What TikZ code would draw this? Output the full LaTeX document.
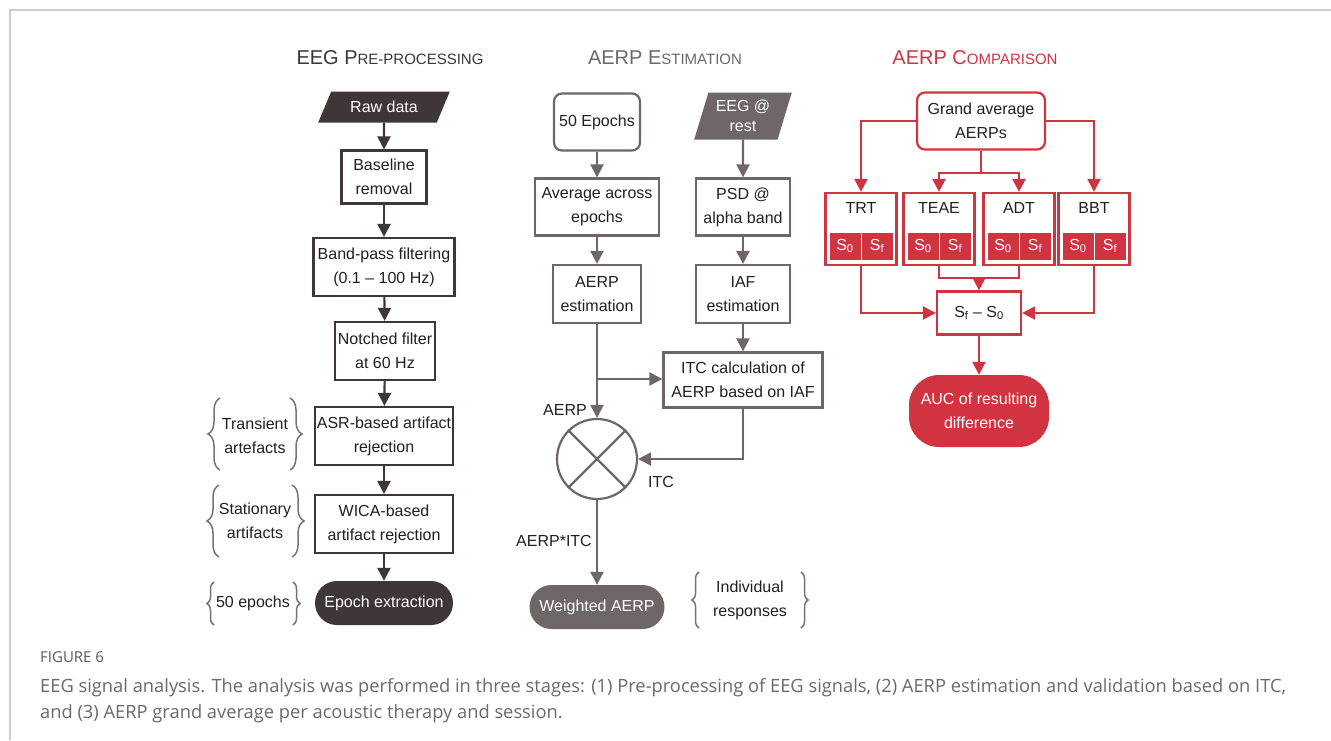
\documentclass[tikz,border=0pt]{standalone}
\usepackage{fontspec}
\setmainfont{Liberation Sans}
\newfontfamily\capfont{Open Sans}
\usetikzlibrary{arrows.meta, positioning, shapes.geometric, decorations.pathreplacing}

\definecolor{predark}{RGB}{62,54,55}
\definecolor{estgray}{RGB}{110,102,103}
\definecolor{cmpred}{RGB}{208,52,64}
\definecolor{txtdark}{RGB}{35,31,32}
\definecolor{framegray}{RGB}{204,204,204}
\definecolor{capgray}{RGB}{105,105,105}
\definecolor{bracegray}{RGB}{120,114,115}

\newcommand{\boxfont}{\fontsize{16}{24}\selectfont}
\newcommand{\headfont}{\fontsize{20}{24}\selectfont}
\newcommand{\fsc}[1]{{\fontsize{15}{18}\selectfont #1}}

\tikzset{
  box/.style={draw, line width=2.2pt, fill=white, align=center, text=txtdark, font=\boxfont, inner sep=1pt},
  dataio/.style={trapezium, trapezium stretches=true, align=center, text=white, font=\boxfont, inner sep=1pt},
  stadium/.style={align=center, text=white, font=\boxfont, inner sep=1pt},
  head/.style={anchor=base, font=\headfont},
  tag/.style={align=center, text=txtdark, font=\boxfont, inner sep=0pt},
  gbrace/.style={decorate, decoration={brace, amplitude=#1}, draw=bracegray, line width=1.5pt},
  gbrace/.default=10pt,
  sq/.style={fill=cmpred, text=white, font=\boxfont, minimum width=31pt, minimum height=27pt, inner sep=0pt}
}

\begin{document}
\begin{tikzpicture}[x=1pt, y=-1pt, arr/.style={-{Triangle[length=13pt,width=13pt]}, line width=2.2pt}]
  \useasboundingbox (0,0) rectangle (1331,740);
  \draw[framegray, line width=2pt] (10,740) -- (10,10) -- (1331,10);

  % headers
  \node[head, text=predark] (h1) at (390,64) {EEG P\fsc{RE-PROCESSING}};
  \node[head, text=estgray] (h2) at (665,64) {AERP E\fsc{STIMATION}};
  \node[head, text=cmpred] (h3) at (975,64) {AERP C\fsc{OMPARISON}};

  % pre-processing
  \node[dataio, fill=predark, trapezium left angle=58, trapezium right angle=122, minimum width=132pt, minimum height=31pt] (raw) at (384,107) {Raw data};
  \node[box, draw=predark, minimum width=85pt, minimum height=53pt] (base) at (384,177) {Baseline\\removal};
  \node[box, draw=predark, minimum width=141pt, minimum height=58pt] (band) at (384,267) {Band-pass filtering\\(0.1 -- 100 Hz)};
  \node[box, draw=predark, minimum width=100pt, minimum height=58pt] (notch) at (385,351) {Notched filter\\at 60 Hz};
  \node[box, draw=predark, minimum width=138pt, minimum height=58pt] (asr) at (384,436) {ASR-based artifact\\rejection};
  \node[box, draw=predark, minimum width=138pt, minimum height=58pt] (wica) at (384,524) {WICA-based\\artifact rejection};
  \node[stadium, fill=predark, rounded corners=22pt, minimum width=138pt, minimum height=44pt] (epoch) at (384,603) {Epoch extraction};

  \path[every edge/.append style={arr, draw=predark}]
    (raw) edge (base)
    (base) edge (band)
    (band) edge (notch)
    (notch) edge (asr)
    (asr) edge (wica)
    (wica) edge (epoch);

  \node[tag] (trans) at (255,436) {Transient\\artefacts};
  \node[tag] (stat) at (255,521) {Stationary\\artifacts};
  \node[tag] (n50) at (253,603) {50 epochs};
  \draw[gbrace=12pt] (220,470) -- (220,398);
  \draw[gbrace=12pt] (290,398) -- (290,470);
  \draw[gbrace=12pt] (219,557) -- (219,485);
  \draw[gbrace=12pt] (292,485) -- (292,557);
  \draw[gbrace=7pt] (214,625) -- (214,582);
  \draw[gbrace=7pt] (293,582) -- (293,625);

  % estimation
  \node[box, draw=estgray, rounded corners=8pt, minimum width=86pt, minimum height=57pt] (ep50) at (597,122) {50 Epochs};
  \node[dataio, fill=estgray, trapezium left angle=71, trapezium right angle=109, minimum width=98pt, minimum height=47pt, font=\fontsize{16}{20}\selectfont] (rest) at (743,116) {EEG @\\rest};
  \node[box, draw=estgray, minimum width=124pt, minimum height=57pt] (avg) at (597,207) {Average across\\epochs};
  \node[box, draw=estgray, minimum width=94pt, minimum height=57pt] (psd) at (743,207) {PSD @\\alpha band};
  \node[box, draw=estgray, minimum width=88pt, minimum height=58pt] (aerp) at (597,294) {AERP\\estimation};
  \node[box, draw=estgray, minimum width=94pt, minimum height=58pt] (iaf) at (743,294) {IAF\\estimation};
  \node[box, draw=estgray, minimum width=159pt, minimum height=55pt] (itc) at (743,380) {ITC calculation of\\AERP based on IAF};
  \node[circle, draw=estgray, line width=2.2pt, minimum size=80pt, inner sep=0pt] (mult) at (597,459) {};
  \draw[estgray, line width=2.2pt] (mult.north west) -- (mult.south east) (mult.north east) -- (mult.south west);
  \node[stadium, fill=estgray, rounded corners=22pt, minimum width=135pt, minimum height=44pt] (wavg) at (597,607) {Weighted AERP};
  \coordinate (br) at (597,379);

  \path[every edge/.append style={arr, draw=estgray}]
    (ep50) edge (avg)
    (rest) edge (psd)
    (avg) edge (aerp)
    (psd) edge (iaf)
    (iaf) edge (itc)
    (aerp) edge (mult)
    (br) edge (br -| itc.west)
    (mult) edge (wavg);
  \draw[arr, estgray] (itc.south) |- (mult.east);

  \node[tag] (laerp) at (565,410) {AERP};
  \node[tag] (litc) at (661,482) {ITC};
  \node[tag] (lprod) at (554,541) {AERP*ITC};
  \node[tag] (indiv) at (750,600) {Individual\\responses};
  \draw[gbrace=7pt] (699,628) -- (699,572);
  \draw[gbrace=7pt] (801,572) -- (801,628);

  % comparison
  \node[box, draw=cmpred, rounded corners=8pt, minimum width=128pt, minimum height=57pt] (grand) at (981,121) {Grand average\\AERPs};
  \foreach \n/\lab/\x in {trt/TRT/861, teae/TEAE/939, adt/ADT/1019, bbt/BBT/1094} {
    \node[box, draw=cmpred, minimum width=71pt, minimum height=72pt] (\n) at (\x,229) {};
    \node[tag] (\n lbl) at (\x,208) {\lab};
    \node[sq] (\n0) at (\x-16,246) {S\textsubscript{0}};
    \node[sq] (\n f) at (\x+16,246) {S\textsubscript{f}};
  }
  \node[box, draw=cmpred, minimum width=84pt, minimum height=43pt] (diff) at (979,313) {S\textsubscript{f} -- S\textsubscript{0}};
  \node[stadium, fill=cmpred, rounded corners=30pt, minimum width=140pt, minimum height=72pt] (auc) at (979,411) {AUC of resulting\\difference};
  \coordinate (gsplit) at (981,173);
  \coordinate (join) at (979,278);

  \draw[line width=2.2pt, cmpred] (grand.south) -- (gsplit) (teae.south) |- (join) -| (adt.south);
  \draw[arr, cmpred] (grand.west) -| (trt.north);
  \draw[arr, cmpred] (grand.east) -| (bbt.north);
  \draw[arr, cmpred] (gsplit) -| (teae.north);
  \draw[arr, cmpred] (gsplit) -| (adt.north);
  \draw[arr, cmpred] (join) -- (diff.north);
  \draw[arr, cmpred] (trt.south) |- (diff.west);
  \draw[arr, cmpred] (bbt.south) |- (diff.east);
  \draw[arr, cmpred] (diff) -- (auc);

  % caption
  \node[anchor=base west, inner sep=0pt, text=capgray!85!black, font=\capfont\fontsize{15}{18}\selectfont] (figno) at (40,662) {FIGURE 6};
  \node[anchor=base west, inner sep=0pt, text=capgray, font=\capfont\fontsize{18.3}{22}\selectfont] (cap1) at (40,692) {EEG signal analysis. The analysis was performed in three stages: (1) Pre-processing of EEG signals, (2) AERP estimation and validation based on ITC,};
  \node[anchor=base west, inner sep=0pt, text=capgray, font=\capfont\fontsize{18.3}{22}\selectfont] (cap2) at (40,718) {and (3) AERP grand average per acoustic therapy and session.};
\end{tikzpicture}
\end{document}
